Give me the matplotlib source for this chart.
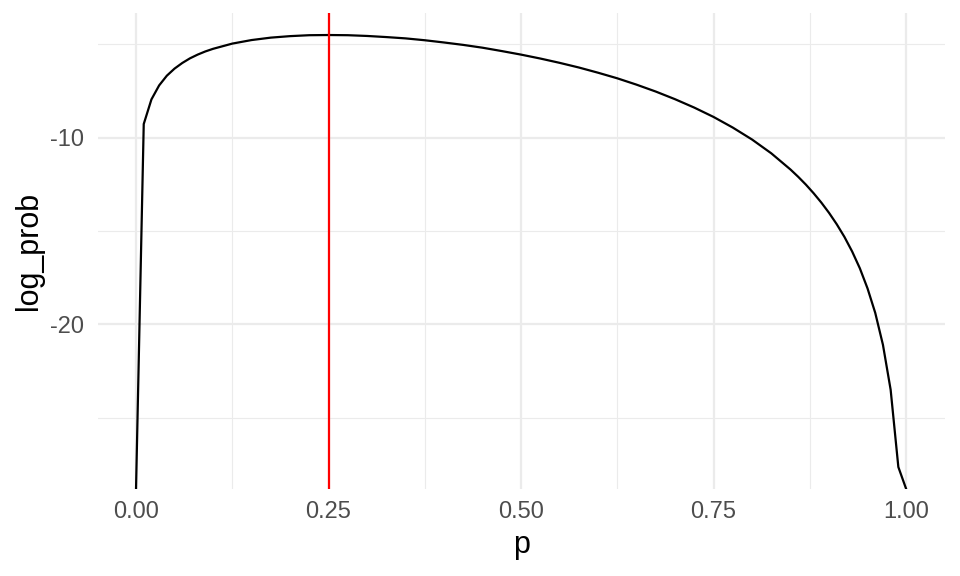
import numpy as np
import matplotlib
matplotlib.use("Agg")
import matplotlib.pyplot as plt

# p grid and log probability (ends are -Inf)
p = [0.00, 0.01, 0.02, 0.03, 0.04, 0.05, 0.06, 0.07, 0.08, 0.09, 0.10,
     0.125, 0.15, 0.175, 0.20, 0.225, 0.25, 0.275, 0.30, 0.325, 0.35,
     0.375, 0.40, 0.425, 0.45, 0.475, 0.50, 0.525, 0.55, 0.575, 0.60,
     0.625, 0.65, 0.675, 0.70, 0.725, 0.75, 0.775, 0.80, 0.825, 0.85,
     0.86, 0.87, 0.88, 0.89, 0.90, 0.91, 0.92, 0.93, 0.94, 0.95, 0.96,
     0.97, 0.98, 0.99, 1.00]
log_prob = [-np.inf, -9.27, -7.95, -7.20, -6.68, -6.30, -6.00, -5.75, -5.55,
            -5.38, -5.24, -4.96, -4.77, -4.64, -4.56, -4.51, -4.50, -4.51,
            -4.55, -4.61, -4.68, -4.78, -4.90, -5.03, -5.18, -5.36, -5.55,
            -5.76, -5.99, -6.24, -6.52, -6.82, -7.16, -7.53, -7.94, -8.39,
            -8.89, -9.46, -10.10, -10.84, -11.71, -12.10, -12.52, -12.98,
            -13.48, -14.03, -14.64, -15.32, -16.10, -17.00, -18.08, -19.39,
            -21.10, -23.51, -27.65, -np.inf]
p_max = 0.25

x_breaks = [0.00, 0.25, 0.50, 0.75, 1.00]
x_labels = ["0.00", "0.25", "0.50", "0.75", "1.00"]
y_breaks = [-20, -10]
y_labels = ["-20", "-10"]

plt.rcParams['font.family'] = ['Liberation Sans', 'DejaVu Sans']

fig = plt.figure(figsize=(9.6, 5.76), dpi=100)
ax = fig.add_axes([0.1016, 0.1517, 0.8823, 0.825])

# ggplot-style limits: finite range expanded by 5%
y = np.array(log_prob, dtype=float)
fin = y[np.isfinite(y)]
lo, hi = fin.min(), fin.max()
pad = (hi - lo) * 0.05
ymin, ymax = lo - pad, hi + pad
xpad = (max(p) - min(p)) * 0.05
ax.set_xlim(min(p) - xpad, max(p) + xpad)
ax.set_ylim(ymin, ymax)

# grid
grid = "#EBEBEB"
for xb in x_breaks:
    ax.axvline(xb, color=grid, lw=1.6, zorder=0)
for xm in [0.125, 0.375, 0.625, 0.875]:
    ax.axvline(xm, color=grid, lw=0.8, zorder=0)
for yb in y_breaks:
    ax.axhline(yb, color=grid, lw=1.6, zorder=0)
for ym in [-25, -15, -5]:
    ax.axhline(ym, color=grid, lw=0.8, zorder=0)

# -Inf drawn at panel edge like ggplot
ax.plot(p, np.clip(y, ymin, None), color="black", lw=1.6, zorder=2)
ax.axvline(p_max, color="red", lw=1.6, zorder=3)

for s in ax.spines.values():
    s.set_visible(False)
ax.set_xticks(x_breaks)
ax.set_xticklabels(x_labels)
ax.set_yticks(y_breaks)
ax.set_yticklabels(y_labels)
ax.tick_params(length=0, labelsize=17, labelcolor="#4D4D4D")
ax.tick_params(axis="x", pad=9)
ax.tick_params(axis="y", pad=10)
ax.set_xlabel("p", fontsize=22, labelpad=5)
ax.set_ylabel("log_prob", fontsize=22, labelpad=4)

fig.savefig("out.png", dpi=100)
